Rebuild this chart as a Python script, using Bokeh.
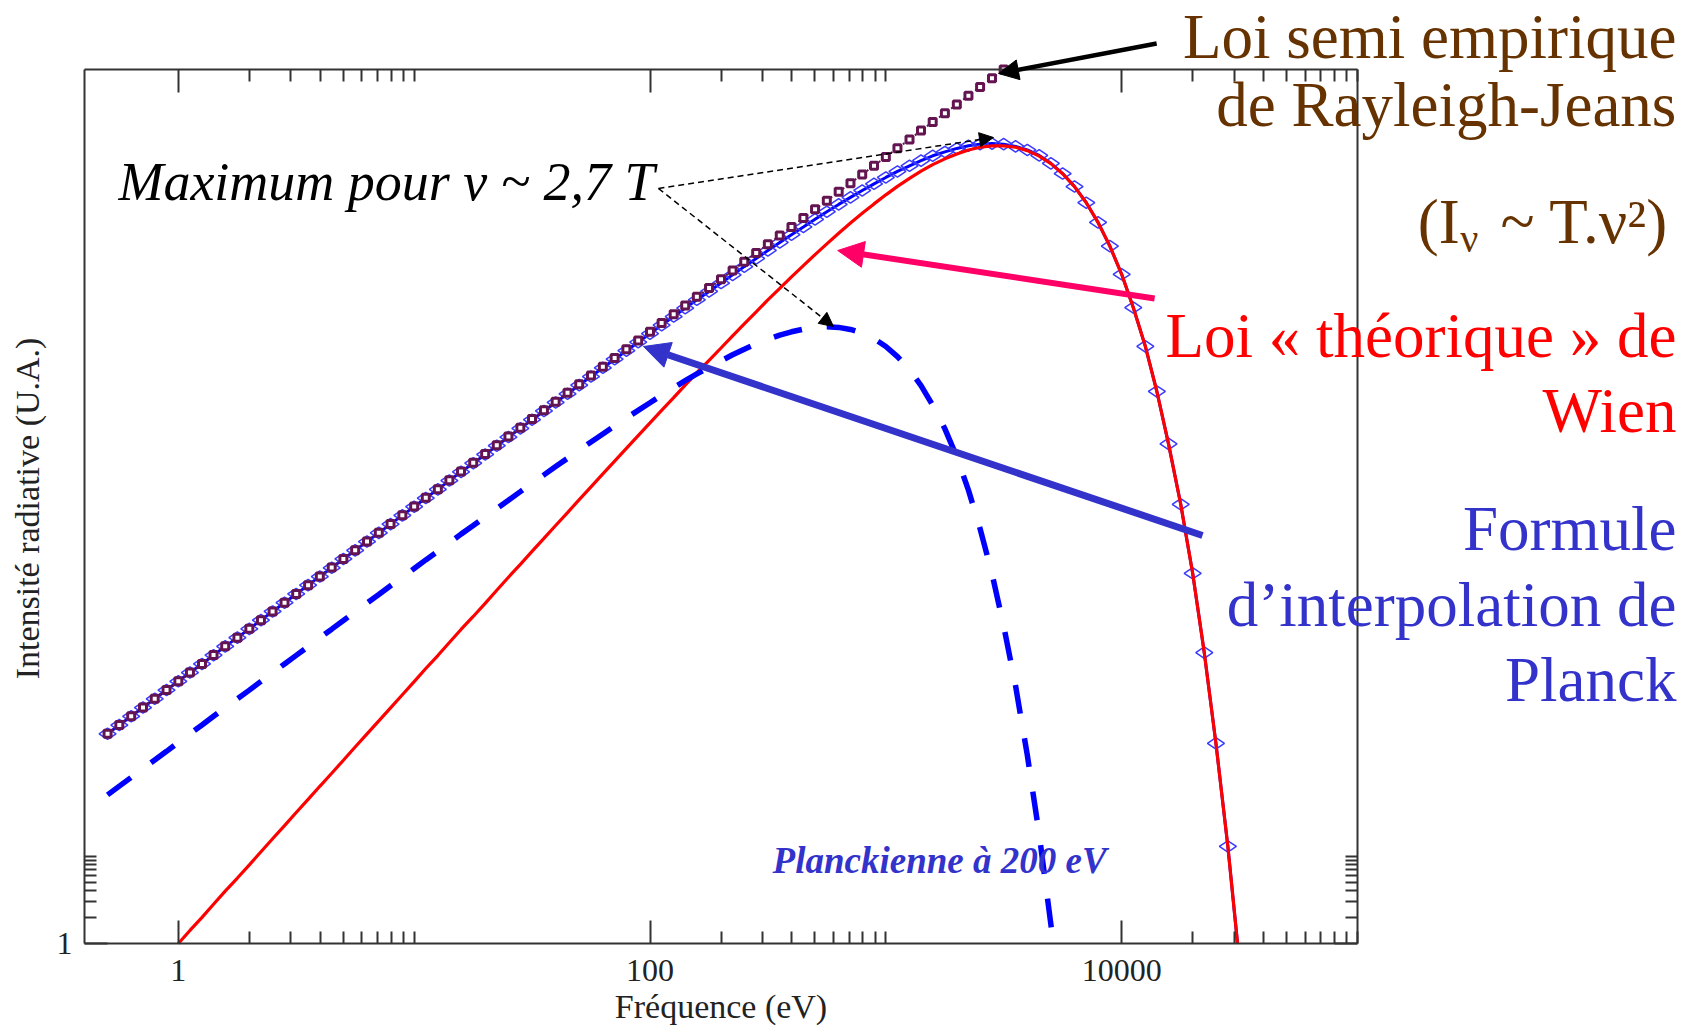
import math
from bokeh.plotting import figure
from bokeh.models import LogAxis, LogScale, FixedTicker, Label, Arrow, NormalHead
from bokeh.embed import file_html
from bokeh.resources import INLINE

# ---------------- data ----------------
# frequency grid (eV), about 20 samples per decade
freq = [0.501, 0.562, 0.631, 0.708, 0.794, 0.891,
        1.00, 1.12, 1.26, 1.41, 1.58, 1.78, 2.00, 2.24, 2.51, 2.82,
        3.16, 3.55, 3.98, 4.47, 5.01, 5.62, 6.31, 7.08, 7.94, 8.91,
        10.0, 11.2, 12.6, 14.1, 15.8, 17.8, 20.0, 22.4, 25.1, 28.2,
        31.6, 35.5, 39.8, 44.7, 50.1, 56.2, 63.1, 70.8, 79.4, 89.1,
        100, 112, 126, 141, 158, 178, 200, 224, 251, 282,
        316, 355, 398, 447, 501, 562, 631, 708, 794, 891,
        1000, 1120, 1260, 1410, 1580, 1780, 2000, 2240, 2510, 2820,
        3160, 3550, 3980, 4470, 5010, 5620, 6310, 7080, 7940, 8910,
        10000, 11200, 12600, 14100, 15800, 17800, 20000, 22400, 25100, 28200]

# Rayleigh-Jeans (first 77 frequencies)
rayleigh_jeans = [251, 316, 398, 501, 631, 794,
                  1.00e3, 1.26e3, 1.58e3, 2.00e3, 2.51e3, 3.16e3, 3.98e3, 5.01e3, 6.31e3, 7.94e3,
                  1.00e4, 1.26e4, 1.58e4, 2.00e4, 2.51e4, 3.16e4, 3.98e4, 5.01e4, 6.31e4, 7.94e4,
                  1.00e5, 1.26e5, 1.58e5, 2.00e5, 2.51e5, 3.16e5, 3.98e5, 5.01e5, 6.31e5, 7.94e5,
                  1.00e6, 1.26e6, 1.58e6, 2.00e6, 2.51e6, 3.16e6, 3.98e6, 5.01e6, 6.31e6, 7.94e6,
                  1.00e7, 1.26e7, 1.58e7, 2.00e7, 2.51e7, 3.16e7, 3.98e7, 5.01e7, 6.31e7, 7.94e7,
                  1.00e8, 1.26e8, 1.58e8, 2.00e8, 2.51e8, 3.16e8, 3.98e8, 5.01e8, 6.31e8, 7.94e8,
                  1.00e9, 1.26e9, 1.58e9, 2.00e9, 2.51e9, 3.16e9, 3.98e9, 5.01e9, 6.31e9, 7.94e9,
                  1.00e10]

# Planck interpolation formula (all 96 frequencies)
planck = [251, 316, 398, 501, 631, 794,
          1.00e3, 1.26e3, 1.58e3, 1.99e3, 2.51e3, 3.16e3, 3.98e3, 5.01e3, 6.30e3, 7.93e3,
          9.98e3, 1.26e4, 1.58e4, 1.99e4, 2.51e4, 3.15e4, 3.97e4, 4.99e4, 6.29e4, 7.91e4,
          9.95e4, 1.25e5, 1.57e5, 1.98e5, 2.49e5, 3.13e5, 3.94e5, 4.96e5, 6.23e5, 7.83e5,
          9.84e5, 1.24e6, 1.55e6, 1.95e6, 2.45e6, 3.07e6, 3.86e6, 4.84e6, 6.06e6, 7.59e6,
          9.51e6, 1.19e7, 1.49e7, 1.86e7, 2.32e7, 2.89e7, 3.60e7, 4.47e7, 5.55e7, 6.88e7,
          8.50e7, 1.05e8, 1.29e8, 1.58e8, 1.93e8, 2.36e8, 2.86e8, 3.44e8, 4.13e8, 4.92e8,
          5.82e8, 6.82e8, 7.91e8, 9.07e8, 1.03e9, 1.14e9, 1.25e9, 1.34e9, 1.40e9, 1.42e9,
          1.40e9, 1.32e9, 1.20e9, 1.04e9, 8.44e8, 6.45e8, 4.58e8, 2.99e8, 1.78e8, 9.54e7,
          4.54e7, 1.89e7, 6.80e6, 2.07e6, 5.21e5, 1.06e5, 1.72e4, 2.13e3, 195, 12.9]

# Wien law (frequencies from 1 eV on, 90 values)
wien = [0.999, 1.41, 1.99, 2.81, 3.98, 5.61, 7.93, 11.2, 15.8, 22.3,
        31.5, 44.5, 62.9, 88.7, 125, 177, 250, 352, 497, 702,
        990, 1.40e3, 1.97e3, 2.78e3, 3.92e3, 5.52e3, 7.79e3, 1.10e4, 1.55e4, 2.18e4,
        3.06e4, 4.31e4, 6.06e4, 8.52e4, 1.20e5, 1.68e5, 2.36e5, 3.31e5, 4.63e5, 6.48e5,
        9.05e5, 1.26e6, 1.76e6, 2.45e6, 3.40e6, 4.71e6, 6.51e6, 8.97e6, 1.23e7, 1.69e7,
        2.31e7, 3.13e7, 4.24e7, 5.70e7, 7.63e7, 1.01e8, 1.34e8, 1.75e8, 2.26e8, 2.90e8,
        3.68e8, 4.60e8, 5.67e8, 6.86e8, 8.16e8, 9.50e8, 1.08e9, 1.20e9, 1.29e9, 1.34e9,
        1.34e9, 1.29e9, 1.18e9, 1.02e9, 8.38e8, 6.42e8, 4.57e8, 2.99e8, 1.78e8, 9.54e7,
        4.54e7, 1.89e7, 6.80e6, 2.07e6, 5.21e5, 1.06e5, 1.72e4, 2.13e3, 195, 12.9]

# Planckian at 200 eV (first 81 frequencies)
planck_200 = [50.2, 63.2, 79.5, 100, 126, 158,
              200, 251, 316, 398, 500, 630, 792, 997, 1.25e3, 1.58e3,
              1.98e3, 2.50e3, 3.14e3, 3.95e3, 4.96e3, 6.24e3, 7.84e3, 9.85e3, 1.24e4, 1.55e4,
              1.95e4, 2.45e4, 3.07e4, 3.85e4, 4.83e4, 6.05e4, 7.57e4, 9.47e4, 1.18e5, 1.48e5,
              1.85e5, 2.30e5, 2.87e5, 3.56e5, 4.42e5, 5.48e5, 6.77e5, 8.35e5, 1.03e6, 1.26e6,
              1.54e6, 1.88e6, 2.28e6, 2.75e6, 3.29e6, 3.92e6, 4.64e6, 5.44e6, 6.31e6, 7.24e6,
              8.19e6, 9.13e6, 9.98e6, 1.07e7, 1.12e7, 1.14e7, 1.12e7, 1.06e7, 9.62e6, 8.31e6,
              6.78e6, 5.19e6, 3.69e6, 2.42e6, 1.44e6, 7.74e5, 3.69e5, 1.54e5, 5.57e4, 1.70e4,
              4.30e3, 882, 143, 17.8, 1.65]

# frequencies where the curves leave the plot through the bottom axis (I = 1)
exit_freq_wien = 31000
exit_freq_planck = 31000
exit_freq_200 = 5130
axis_floor = 1.0

x_major = [1, 100, 10000]
x_minor = [2, 3, 4, 5, 6, 7, 8, 9, 10,
           200, 300, 400, 500, 600, 700, 800, 900, 1000,
           20000, 30000, 40000, 50000, 60000, 70000, 80000, 90000, 100000]
x_labels = {1: "1", 100: "100", 10000: "10000"}
y_major = [1]
y_minor = [2, 3, 4, 5, 6, 7, 8, 9, 10]
y_labels = {1: "1"}
X_LO, X_HI = 0.4, 1e5
Y_LO, Y_HI = 1, 1e10

# ---------------- layout ----------------
W, H = 1684, 1030
BOX_L, BOX_T, BOX_W, BOX_H = 84, 69, 1273, 874     # plotting box, in px
lx = math.log10(X_HI / X_LO) / BOX_W
ly = math.log10(Y_HI / Y_LO) / BOX_H
x_start = X_LO / 10 ** (BOX_L * lx)
x_end = X_HI * 10 ** ((W - BOX_L - BOX_W) * lx)
y_end = Y_HI * 10 ** (BOX_T * ly)
y_start = Y_LO / 10 ** ((H - BOX_T - BOX_H) * ly)

SERIF = "Liberation Serif"
PURPLE = "#641450"
BROWN = "#663300"
RED = "#ff0000"
TXTBLUE = "#3333cc"
AXC = "#333333"

p = figure(width=W, height=H, x_axis_type=None, y_axis_type=None,
           x_range=(x_start, x_end), y_range=(y_start, y_end),
           output_backend="svg", toolbar_location=None,
           min_border_left=0, min_border_right=0,
           min_border_top=0, min_border_bottom=0)
p.x_scale = LogScale()
p.y_scale = LogScale()
p.grid.visible = False
p.outline_line_color = None
p.background_fill_color = "white"
p.border_fill_color = "white"


def make_axis(ticker, bounds, loc, overrides, show_labels, standoff):
    ax = LogAxis(ticker=ticker, bounds=bounds, fixed_location=loc)
    ax.major_tick_in = 23
    ax.major_tick_out = 0
    ax.minor_tick_in = 12
    ax.minor_tick_out = 0
    ax.axis_line_color = AXC
    ax.axis_line_width = 2
    ax.major_tick_line_color = AXC
    ax.major_tick_line_width = 2
    ax.minor_tick_line_color = AXC
    ax.minor_tick_line_width = 2
    ax.major_label_text_font = SERIF
    ax.major_label_text_font_size = "32px"
    ax.major_label_overrides = overrides
    ax.major_label_standoff = standoff
    ax.major_label_text_color = "#222222" if show_labels else None
    return ax


xt = FixedTicker(ticks=x_major, minor_ticks=x_minor)
yt = FixedTicker(ticks=y_major, minor_ticks=y_minor)
p.add_layout(make_axis(xt, (X_LO, X_HI), Y_LO, x_labels, True, 16), "below")
p.add_layout(make_axis(xt, (X_LO, X_HI), Y_HI, x_labels, False, 0), "above")
p.add_layout(make_axis(yt, (Y_LO, Y_HI), X_LO, y_labels, True, 12), "left")
p.add_layout(make_axis(yt, (Y_LO, Y_HI), X_HI, y_labels, False, 0), "right")

# ---------------- curves ----------------
p.line(freq + [exit_freq_planck], planck + [axis_floor], line_color="#0000ff", line_width=3)
p.scatter(freq, planck, marker="diamond", size=17, angle=math.pi / 2,
          fill_color=None, line_color="#3a3aff", line_width=1.5)
p.line(freq[6:] + [exit_freq_wien], wien + [axis_floor], line_color=RED, line_width=3.2)
p.line(freq[:81] + [exit_freq_200], planck_200 + [axis_floor],
       line_color="#0000ff", line_width=5.5, line_dash="29 25")
p.line(freq[:77], rayleigh_jeans, line_color=PURPLE, line_width=2, line_dash="2 3")
p.scatter(freq[:77], rayleigh_jeans, marker="square", size=7,
          fill_color="white", line_color=PURPLE, line_width=3)

# ---------------- annotations ----------------
def label(x, y, text, size, color, align="left", style="normal",
          baseline="alphabetic", angle=0.0):
    p.add_layout(Label(x=x, y=y, text=text, text_font=SERIF,
                       text_font_size=f"{size}px", text_color=color,
                       text_align=align, text_baseline=baseline,
                       text_font_style=style, angle=angle))


def arrow(x0, y0, x1, y1, color, width, head, dash="solid"):
    p.add_layout(Arrow(x_start=x0, y_start=y0, x_end=x1, y_end=y1,
                       line_color=color, line_width=width, line_dash=dash,
                       end=NormalHead(size=head, fill_color=color,
                                      line_color=color, line_width=1)))


# axis titles
label(200, 0.191, "Fréquence (eV)", 34, "#222222", align="center")
label(0.2293, 9.49e4, "Intensité radiative (U.A.)", 34, "#222222",
      align="center", baseline="middle", angle=math.pi / 2)

label(0.557, 5.18e8, "Maximum pour ν ~ 2,7 T", 54, "black", style="italic")
arrow(108.6, 4.35e8, 2861, 1.667e9, "black", 1.5, 14, dash="6 4")
arrow(108.6, 4.35e8, 600, 1.146e7, "black", 1.5, 14, dash="6 4")

label(331, 9.0, "Planckienne à 200 eV", 37, TXTBLUE, style="bold italic")

X_RIGHT = 2.25e6
label(X_RIGHT, 2.355e10, "Loi semi empirique", 63, BROWN, align="right")
label(X_RIGHT, 3.925e9, "de Rayleigh-Jeans", 63, BROWN, align="right")
label(1.8e5, 1.799e8, "(I", 63, BROWN)
label(2.73e5, 1.15e8, "ν", 40, BROWN)
label(4.04e5, 1.799e8, "~ T.ν²)", 63, BROWN)
label(X_RIGHT, 8.93e6, "Loi « théorique » de", 63, RED, align="right")
label(X_RIGHT, 1.238e6, "Wien", 63, RED, align="right")
label(X_RIGHT, 5.53e4, "Formule", 63, TXTBLUE, align="right")
label(X_RIGHT, 7.46e3, "d’interpolation de", 63, TXTBLUE, align="right")
label(X_RIGHT, 1.035e3, "Planck", 63, TXTBLUE, align="right")

arrow(14070, 1.98e10, 3004, 8.99e9, "black", 4.5, 20)
arrow(13795, 2.40e7, 625, 8.49e7, "#ff0066", 6, 26)
arrow(22020, 4.66e4, 93.8, 6.77e6, TXTBLUE, 7, 26)

open("out.html", "w").write(file_html(p, INLINE))
